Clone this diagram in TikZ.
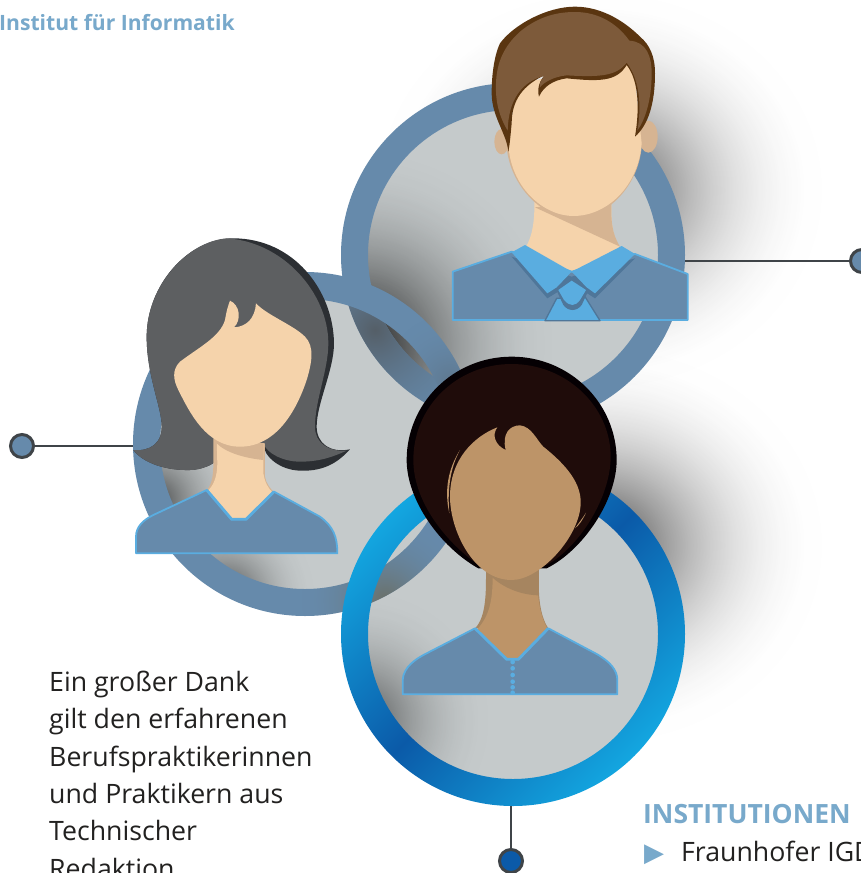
\documentclass[tikz,border=0pt]{standalone}
\usepackage{fontspec}
\setmainfont{Open Sans}
\newfontfamily\symf{DejaVu Sans}
\usetikzlibrary{fadings}
\definecolor{ringc}{HTML}{668AAB}
\definecolor{discc}{HTML}{C5CACB}
\definecolor{cyanl}{HTML}{5AADE0}
\definecolor{cyand}{HTML}{4F7699}
\definecolor{skin}{HTML}{F5D3AB}
\definecolor{skins}{HTML}{D6B492}
\definecolor{hairb}{HTML}{7D5A3A}
\definecolor{hairbd}{HTML}{5A3510}
\definecolor{hairg}{HTML}{5D5F61}
\definecolor{hairgd}{HTML}{2C2F33}
\definecolor{hairk}{HTML}{1F0C0A}
\definecolor{hairkd}{HTML}{050003}
\definecolor{skinb}{HTML}{BD9468}
\definecolor{skinbs}{HTML}{A68560}
\definecolor{labelc}{HTML}{78A9CB}
\definecolor{textc}{HTML}{222120}
\definecolor{wirec}{HTML}{3F4448}
\definecolor{blueL}{HTML}{13A6E0}
\definecolor{blueD}{HTML}{0B5AA8}
\definecolor{tintb}{HTML}{555F68}
\definecolor{tintg}{HTML}{6B7068}
\pgfdeclareradialshading{softprofile}{\pgfpointorigin}{color(0bp)=(transparent!0); color(2.5bp)=(transparent!19); color(5bp)=(transparent!36); color(7.5bp)=(transparent!51); color(10bp)=(transparent!64); color(12.5bp)=(transparent!75); color(15bp)=(transparent!84); color(17.5bp)=(transparent!91); color(20bp)=(transparent!96); color(22.5bp)=(transparent!99); color(25bp)=(transparent!100); color(100bp)=(transparent!100)}
\pgfdeclarefading{softp}{\pgfuseshading{softprofile}}
\tikzset{
  dotnode/.style={circle,draw=wirec,line width=3pt,minimum size=23pt,inner sep=0pt},
  wire/.style={draw=wirec,line width=2.4pt},
  disc/.style={fill=discc},
  bodyc/.style={fill=ringc,draw=cyanl,line width=1.8pt,line join=round},
  neckline/.style={draw=cyanl,line width=2.8pt,line join=round},
  label/.style={inner sep=0pt,anchor=base west},
  softblob/.style={fill=#1,path fading=softp},
}
\begin{document}
\begin{tikzpicture}[x=1pt,y=-1pt]
\useasboundingbox (0,0) rectangle (861,873);
\fill[white] (0,0) rectangle (861,873);
% soft shadows on the page
\path[softblob=black,fill opacity=.75] (600,190) ellipse (225 and 200);
\path[softblob=black,fill opacity=.75] (600,545) ellipse (225 and 200);
% connectors
\node[dotnode,fill=ringc] (dotL) at (22,446) {};
\node[dotnode,fill=ringc] (dotT) at (862,261) {};
\node[dotnode,fill=blueD] (dotB) at (511,861) {};
\coordinate (ringL) at (135,446);
\coordinate (ringT) at (683,261);
\coordinate (ringB) at (511,804);
\draw[wire] (dotL) -- (ringL);
\draw[wire] (dotT) -- (ringT);
\draw[wire] (dotB) -- (ringB);
% discs
\fill[disc] (305,444) circle (146);
\begin{scope}
\clip (305,444) circle (146);
\path[softblob=black,fill opacity=.65] (155,500) circle (90);
\path[softblob=black,fill opacity=.65] (225,595) circle (90);
\end{scope}
\fill[disc] (513,255) circle (146);
\fill[disc] (513,634) circle (146);
\begin{scope}
\clip (513,255) circle (146);
\path[softblob=black,fill opacity=.9] (360,345) circle (195);
\end{scope}
\begin{scope}
\clip (513,634) circle (146);
\path[softblob=black,fill opacity=.6] (360,720) circle (130);
\end{scope}
% rings
\fill[ringc,even odd rule] (513,255) circle (172) (513,255) circle (145);
\begin{scope}
\clip (305,444) circle (146);
\begin{scope}[even odd rule]
\clip (513,255) circle (172) (513,255) circle (145);
\path[softblob=tintb,fill opacity=1] (375,330) circle (140);
\end{scope}
\end{scope}
\fill[ringc,even odd rule] (305,444) circle (172) (305,444) circle (145);
\begin{scope}[even odd rule]
\clip (305,444) circle (172) (305,444) circle (145);
\path[softblob=tintg,fill opacity=1] (385,600) circle (85);
\path[softblob=tintb,fill opacity=.4] (450,380) circle (70);
\end{scope}
% man
\begin{scope}[shift={(340,0)},scale=0.33333]
\fill[skins] (485,425) ellipse (22 and 38);
\fill[skins] (925,410) ellipse (28 and 48);
\fill[skin] (583,590) -- (815,590) .. controls (812,660) and (815,710) .. (842,745) -- (695,820) -- (555,745) .. controls (578,710) and (585,660) .. (583,590) -- cycle;
\fill[skins] (585,622) -- (815,600) .. controls (812,660) and (815,700) .. (840,740) -- cycle;
\fill[skins] (500,440) .. controls (510,560) and (610,656) .. (700,656) .. controls (800,656) and (895,560) .. (905,440) -- cycle;
\fill[skin] (530,250) -- (880,190) -- (905,430) .. controls (895,560) and (800,648) .. (700,648) .. controls (610,648) and (510,560) .. (505,430) -- cycle;
\draw[bodyc] (338,815) -- (515,755) -- (695,815) -- (885,762) -- (1043,822) -- (1043,960) -- (338,960) -- cycle;
\fill[cyand] (515,770) -- (622,895) -- (695,850) -- (765,895) -- (885,775) -- (695,830) -- cycle;
\draw[fill=cyanl,draw=cyand,line width=1.3pt,line join=round] (650,895) -- (615,962) -- (780,962) -- (735,890) -- cycle;
\fill[cyand] (650,872) -- (695,835) -- (745,872) -- (725,915) .. controls (710,935) and (685,935) .. (670,915) -- cycle;
\fill[cyanl] (655,870) -- (695,842) -- (738,870) -- (720,900) .. controls (705,920) and (690,920) .. (672,900) -- cycle;
\fill[cyanl] (515,757) -- (555,735) -- (695,815) -- (650,862) -- (622,880) -- cycle;
\fill[cyanl] (885,762) -- (845,738) -- (695,815) -- (740,862) -- (765,880) -- cycle;
\fill[hairbd] (505,455) .. controls (500,400) and (455,350) .. (455,280) .. controls (455,200) and (470,150) .. (480,130)
  .. controls (520,75) and (620,20) .. (705,20) .. controls (790,20) and (860,70) .. (900,110)
  .. controls (930,135) and (945,170) .. (945,220) .. controls (945,310) and (925,375) .. (885,410)
  .. controls (900,320) and (895,240) .. (860,195) .. controls (830,245) and (780,245) .. (680,235)
  .. controls (640,240) and (610,260) .. (597,290) .. controls (590,265) and (600,240) .. (615,225)
  .. controls (550,255) and (515,300) .. (515,370) .. controls (512,400) and (510,430) .. (505,455) -- cycle;
\fill[hairb] (503,392) .. controls (475,345) and (466,300) .. (468,250) .. controls (470,190) and (490,140) .. (540,95)
  .. controls (600,45) and (660,36) .. (705,36) .. controls (780,36) and (835,75) .. (868,122)
  .. controls (920,125) and (935,170) .. (935,220) .. controls (935,300) and (915,360) .. (892,392)
  .. controls (905,320) and (900,240) .. (860,188) .. controls (830,228) and (780,232) .. (680,226)
  .. controls (640,230) and (610,248) .. (600,262) .. controls (596,250) and (605,240) .. (612,228)
  .. controls (545,245) and (505,300) .. (503,392) -- cycle;
\end{scope}
% woman
\begin{scope}[shift={(0,230)},scale=0.33333]
\fill[hairgd] (700,25) .. controls (880,25) and (1000,180) .. (1002,340) .. controls (1002,420) and (950,520) .. (950,590)
  .. controls (950,640) and (990,670) .. (1050,658) .. controls (1020,690) and (980,725) .. (900,722)
  .. controls (840,720) and (790,680) .. (790,640) -- (650,640) -- (650,690) .. controls (640,705) and (600,720) .. (570,720)
  .. controls (500,722) and (430,700) .. (400,660) .. controls (450,665) and (490,640) .. (485,580)
  .. controls (480,520) and (440,430) .. (440,320) .. controls (440,170) and (560,25) .. (700,25) -- cycle;
\fill[hairg] (680,25) .. controls (850,35) and (985,190) .. (985,340) .. controls (985,420) and (945,510) .. (945,590)
  .. controls (945,640) and (985,665) .. (1040,662) .. controls (1000,680) and (960,695) .. (900,695)
  .. controls (850,695) and (800,670) .. (790,640) -- (650,640) -- (650,690) .. controls (640,705) and (600,720) .. (570,720)
  .. controls (500,722) and (430,700) .. (400,660) .. controls (450,665) and (490,640) .. (485,580)
  .. controls (480,520) and (440,430) .. (440,320) .. controls (440,170) and (560,35) .. (680,25) -- cycle;
\fill[skins] (640,625) -- (795,640) -- (795,740) .. controls (798,760) and (810,775) .. (825,790) -- (615,785) .. controls (635,770) and (640,740) .. (640,700) -- cycle;
\fill[skin] (650,625) -- (790,640) -- (790,730) .. controls (795,760) and (805,775) .. (820,790) -- (738,870) -- (695,870) -- (620,785) .. controls (640,770) and (652,740) .. (652,700) -- cycle;
\fill[skins] (645,625) -- (790,640) -- (790,690) .. controls (740,685) and (680,670) .. (650,640) -- cycle;
\fill[skin] (690,212) .. controls (720,225) and (725,270) .. (702,292) .. controls (740,290) and (765,265) .. (768,220)
  .. controls (800,255) and (880,285) .. (915,320) .. controls (945,350) and (935,400) .. (920,450)
  .. controls (890,540) and (830,650) .. (720,650) .. controls (620,650) and (570,550) .. (535,480)
  .. controls (520,450) and (515,420) .. (540,395) .. controls (600,350) and (660,320) .. (675,270)
  .. controls (680,240) and (685,225) .. (690,212) -- cycle;
\fill[ringc] (408,970) -- (408,920) .. controls (408,890) and (430,870) .. (460,855) -- (620,780) -- (695,868) -- (738,868) -- (822,785) -- (960,860) .. controls (1000,890) and (1012,920) .. (1012,970) -- cycle;
\draw[cyanl,line width=1.8pt,line join=round] (408,970) -- (408,920) .. controls (408,890) and (430,870) .. (460,855) -- (620,780) -- (695,868) -- (738,868) -- (822,785) -- (960,860) .. controls (1000,890) and (1012,920) .. (1012,970) -- cycle;
\draw[neckline] (620,780) -- (695,868) -- (738,868) -- (822,785);
\end{scope}
% bottom ring
\shade[even odd rule,top color=blueL,bottom color=blueL,middle color=blueD,shading angle=45] (513,634) circle (172) (513,634) circle (145);
% third person
\begin{scope}[shift={(340,350)},scale=0.33333]
\fill[hairkd] (515,20) .. controls (690,20) and (830,160) .. (830,330) .. controls (830,450) and (730,600) .. (620,655) -- (415,655) .. controls (300,590) and (200,450) .. (200,330) .. controls (200,160) and (340,20) .. (515,20) -- cycle;
\fill[hairk] (515,42) .. controls (680,42) and (812,170) .. (812,320) .. controls (812,440) and (720,590) .. (620,645) -- (415,645) .. controls (310,570) and (220,450) .. (220,330) .. controls (220,170) and (350,42) .. (515,42) -- cycle;
\fill[skinbs] (438,660) -- (597,660) .. controls (595,720) and (595,790) .. (625,835) -- (405,835) .. controls (440,800) and (438,720) .. (438,660) -- cycle;
\fill[skinb] (458,680) -- (592,680) .. controls (592,720) and (595,790) .. (622,835) -- (530,930) -- (500,930) -- (412,838) .. controls (445,800) and (458,760) .. (458,680) -- cycle;
\fill[skinbs] (445,670) -- (597,670) -- (595,736) .. controls (540,735) and (480,710) .. (445,670) -- cycle;
\fill[skinb] (360,300) .. controls (325,355) and (312,420) .. (328,490) .. controls (322,420) and (330,355) .. (360,300) -- cycle;
\fill[skinb] (472,232) .. controls (400,260) and (330,330) .. (330,440) .. controls (330,540) and (400,690) .. (515,690)
  .. controls (600,690) and (720,560) .. (722,460) .. controls (725,390) and (660,330) .. (610,290)
  .. controls (590,270) and (575,230) .. (540,226) .. controls (510,226) and (485,250) .. (497,300)
  .. controls (465,285) and (455,255) .. (472,232) -- cycle;
\fill[skinb] (738,488) .. controls (728,510) and (718,525) .. (705,535) .. controls (715,520) and (728,505) .. (738,488) -- cycle;
\fill[ringc] (188,1033) -- (188,990) .. controls (190,950) and (230,925) .. (260,910) -- (405,835) -- (500,928) -- (535,928) -- (625,835) -- (770,912) .. controls (810,935) and (832,960) .. (832,990) -- (832,1033) -- cycle;
\draw[cyanl,line width=1.8pt,line join=round] (188,1033) -- (188,990) .. controls (190,950) and (230,925) .. (260,910) -- (405,835) -- (500,928) -- (535,928) -- (625,835) -- (770,912) .. controls (810,935) and (832,960) .. (832,990) -- (832,1033) -- cycle;
\draw[neckline] (405,835) -- (500,928) -- (535,928) -- (625,835);
\foreach \yb in {936,955,975,995,1012,1028} \fill[cyanl] (518,\yb) circle (7);
\end{scope}
% texts
\node[label,text=labelc,font=\fontsize{21.1}{24}\selectfont\bfseries] (inst) at (-1,30.5) {Institut für Informatik};
\node[inner sep=0pt,anchor=north west,align=left,text=textc,font=\fontsize{26.7}{37.3}\selectfont] (dank) at (49,671) {Ein großer Dank\\gilt den erfahrenen\\Berufspraktikerinnen\\und Praktikern aus\\Technischer\\Redaktion};
\node[label,text=labelc,font=\fontsize{26.5}{30}\selectfont\bfseries] (head) at (643,823) {INSTITUTIONEN};
\node[label,text=labelc,font=\fontsize{26}{30}\selectfont\symf] (bull) at (644,861) {▶};
\node[label,text=textc,font=\fontsize{26.7}{37}\selectfont] (frau) at (681,861) {Fraunhofer IGD};
\end{tikzpicture}
\end{document}
